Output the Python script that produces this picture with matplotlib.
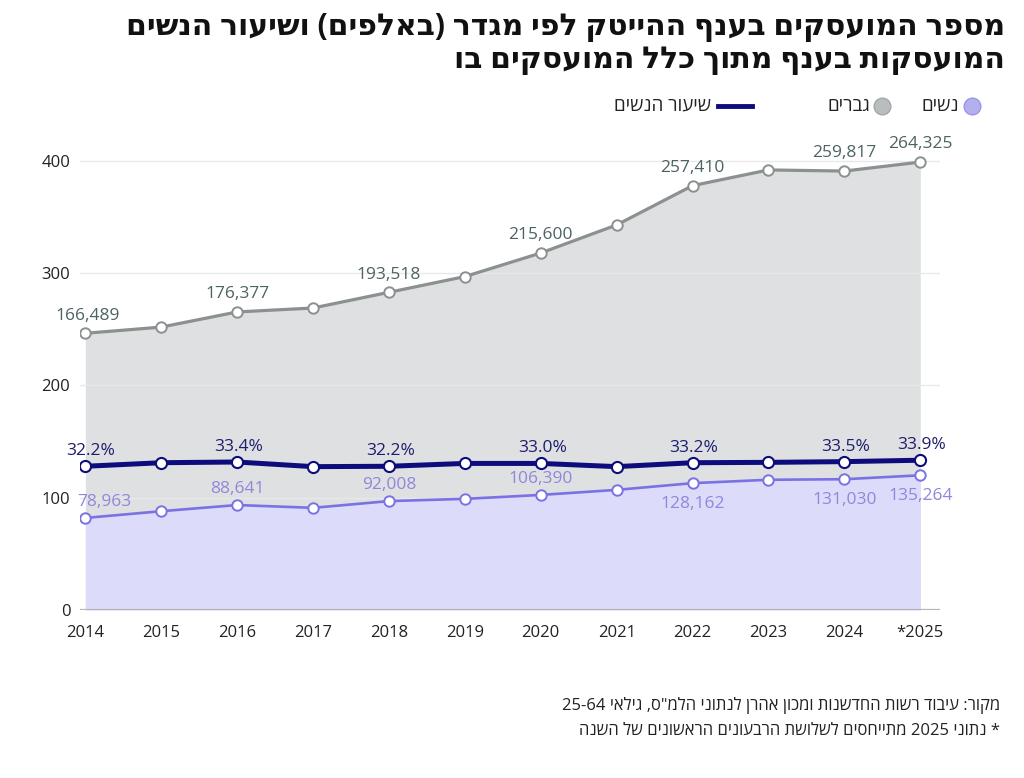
import matplotlib
matplotlib.use("Agg")
import matplotlib.pyplot as plt
from matplotlib.lines import Line2D

plt.rcParams['font.family'] = ['Open Sans', 'DejaVu Sans']

# data (thousands)
years = list(range(2014, 2026))
year_labels = ['2014', '2015', '2016', '2017', '2018', '2019', '2020',
               '2021', '2022', '2023', '2024', '*2025']
total_k = [246.5, 252, 265.5, 269, 283, 297, 318, 343, 378, 392, 391, 399]
women_k = [82, 88, 93.5, 91, 97, 99, 102.5, 107, 113, 116, 116.5, 120]
women_pct = [32.2, 33.2, 33.4, 32.1, 32.2, 33.0, 33.0, 32.1, 33.2, 33.3, 33.5, 33.9]
labeled_years = [2014, 2016, 2018, 2020, 2022, 2024, 2025]
men_count = [166489, 176377, 193518, 215600, 257410, 259817, 264325]
women_count = [78963, 88641, 92008, 106390, 128162, 131030, 135264]

title_1 = "מספר המועסקים בענף ההייטק לפי מגדר (באלפים) ושיעור הנשים"
title_2 = "המועסקות בענף מתוך כלל המועסקים בו"
legend_women = "נשים"
legend_men = "גברים"
legend_pct = "שיעור הנשים"
note_1 = 'מקור: עיבוד רשות החדשנות ומכון אהרן לנתוני הלמ"ס, גילאי 25-64'
note_2 = "* נתוני 2025 מתייחסים לשלושת הרבעונים הראשונים של השנה"

MEN_FILL = '#dfe0e1'
MEN_LINE = '#8b9090'
MEN_TEXT = '#4d6262'
W_FILL = '#dddbfa'
W_LINE = '#7a72e4'
W_TEXT = '#8e88dc'
PCT_LINE = '#0d0c7c'
PCT_TEXT = '#1e1d6e'


def rtl(s):
    # matplotlib has no bidi, so put hebrew words in visual order
    out = []
    for w in reversed(s.split(' ')):
        if any('\u0590' <= c <= '\u05ff' for c in w):
            w = w[::-1].translate(str.maketrans('()', ')('))
        out.append(w)
    return ' '.join(out)


W, H = 1024, 778
fig = plt.figure(figsize=(W / 100, H / 100), dpi=100)


def fx(x):
    return x / W


def fy(y):
    return 1 - y / H


ax = fig.add_axes([fx(80), fy(610), fx(940) - fx(80), fy(138.5) - fy(610)])
ax.set_xlim(2013.93, 2025.26)
ax.set_ylim(0, 420)

ax.set_yticks([0, 100, 200, 300, 400])
ax.grid(axis='y', color='#e9e9e9', lw=1, zorder=0)
ax.axhline(0, color='#b5b5b5', lw=1.6, zorder=5)
ax.set_xticks(years)
ax.set_xticklabels(year_labels)
ax.tick_params(length=0, labelsize=12, colors='#222222')
ax.tick_params(axis='y', pad=7)
ax.tick_params(axis='x', pad=11)
for s in ax.spines.values():
    s.set_visible(False)

# areas
ax.fill_between(years, 0, total_k, color=MEN_FILL, lw=0, zorder=1)
ax.fill_between(years, 0, women_k, color=W_FILL, lw=0, zorder=2)
ax.plot(years, total_k, color=MEN_LINE, lw=2.3, marker='o', ms=7.5,
        mfc='white', mec=MEN_LINE, mew=1.4, zorder=6)
ax.plot(years, women_k, color=W_LINE, lw=1.9, marker='o', ms=7.5,
        mfc='white', mec=W_LINE, mew=1.4, zorder=6)

# percent line on its own hidden scale
ax2 = ax.twinx()
ax2.set_ylim(-8.05, 124.0)
ax2.set_xlim(ax.get_xlim())
ax2.axis('off')
ax2.plot(years, women_pct, color=PCT_LINE, lw=3.6, marker='o', ms=8,
         mfc='white', mec=PCT_LINE, mew=1.5, zorder=6)

# labels
w_below = [2022, 2024, 2025]
for i, yr in enumerate(labeled_years):
    k = years.index(yr)
    dx = 2 if yr == 2014 else 0
    ax.annotate(f"{men_count[i]:,}", (yr, total_k[k]), xytext=(dx, 7),
                textcoords='offset points', ha='center', va='bottom',
                fontsize=12.5, color=MEN_TEXT, zorder=7)
    if yr in w_below:
        off, va = (0, -9), 'top'
    elif yr == 2014:
        off, va = (14, 6), 'bottom'
    else:
        off, va = (0, 6), 'bottom'
    ax.annotate(f"{women_count[i]:,}", (yr, women_k[k]), xytext=off,
                textcoords='offset points', ha='center', va=va,
                fontsize=12.5, color=W_TEXT, zorder=7)
    ax2.annotate(f"{women_pct[k]:.1f}%", (yr, women_pct[k]),
                 xytext=(4 if yr == 2014 else 1, 5),
                 textcoords='offset points', ha='center', va='bottom',
                 fontsize=12.5, color=PCT_TEXT, zorder=7)

# title
fig.text(fx(1005), fy(27), rtl(title_1), ha='right', va='center',
         fontsize=21.5, fontweight='bold', color='#111111')
fig.text(fx(1005), fy(60), rtl(title_2), ha='right', va='center',
         fontsize=21.5, fontweight='bold', color='#111111')

# legend (right to left)
ly = fy(106)
fig.add_artist(Line2D([fx(972)], [ly], marker='o', ms=12, mfc='#b4b0f0',
                      mec='#9a95e6', mew=1, transform=fig.transFigure))
fig.text(fx(959), ly, rtl(legend_women), ha='right', va='center',
         fontsize=13.5, color='#222222')
fig.add_artist(Line2D([fx(882)], [ly], marker='o', ms=12, mfc='#b9bdbd',
                      mec='#a3a8a8', mew=1, transform=fig.transFigure))
fig.text(fx(870), ly, rtl(legend_men), ha='right', va='center',
         fontsize=13.5, color='#222222')
fig.add_artist(Line2D([fx(718), fx(752)], [ly, ly], color=PCT_LINE, lw=3.5,
                      transform=fig.transFigure))
fig.text(fx(711), ly, rtl(legend_pct), ha='right', va='center',
         fontsize=13.5, color='#222222')

# notes
fig.text(fx(1000), fy(706), rtl(note_1), ha='right', va='center',
         fontsize=12, color='#222222')
fig.text(fx(1000), fy(731), rtl(note_2), ha='right', va='center',
         fontsize=12, color='#222222')

fig.savefig('out.png', dpi=100, facecolor='white')
